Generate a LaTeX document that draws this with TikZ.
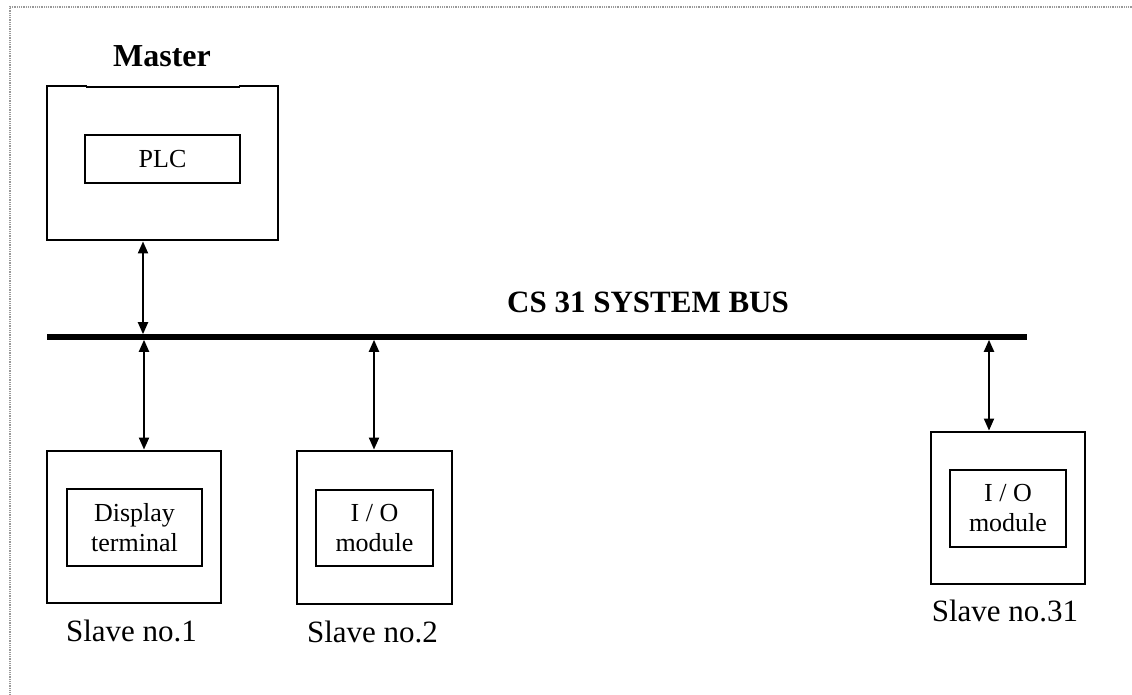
\documentclass[tikz,border=0pt]{standalone}
\usepackage{fontspec}
\setmainfont{Liberation Serif}
\usetikzlibrary{arrows.meta}
\begin{document}
\begin{tikzpicture}[x=1pt,y=-1pt,
  outerbox/.style={draw,line width=2.9pt,inner sep=0pt,minimum width=#1},
  innerbox/.style={draw,line width=2.6pt,inner sep=0pt,align=center,font=\fontsize{26}{30}\selectfont},
  lbl/.style={anchor=base,inner sep=0pt,font=\fontsize{31}{36}\selectfont},
  title/.style={anchor=base,inner sep=0pt,font=\fontsize{31}{36}\selectfont\bfseries},
  link/.style={line width=2pt,{Triangle[length=12pt,width=10pt]}-{Triangle[length=12pt,width=10pt]}},
  bus/.style={line width=5.5pt},
  frame/.style={gray!80,line width=1.1pt,dash pattern=on 1pt off 0.8pt}]
\useasboundingbox (0,0) rectangle (1132,695);
% page frame
\draw[frame] (10,700) -- (10,7) -- (1140,7);
% master
\node[outerbox=231pt,minimum height=154pt] (master) at (162.5,163) {};
\draw[white,line width=3.5pt] (87,86) -- (239,86);
\draw[line width=1.2pt] (86,87) -- (240,87);
\node[innerbox,minimum width=155pt,minimum height=48pt] (plc) at (162.5,159) {PLC};
\node[title,font=\fontsize{32}{36}\selectfont\bfseries] (mastertxt) at (162,67) {Master};
% bus
\coordinate (busL) at (47,337);
\coordinate (busR) at (1027,337);
\draw[bus] (busL) -- (busR);
\node[title] (bustxt) at (648,312) {CS 31 SYSTEM BUS};
\coordinate (b0) at (143,334.2);
\coordinate (b1) at (144,339.8);
\coordinate (b2) at (374,339.8);
\coordinate (b3) at (989,339.8);
% slaves
\node[outerbox=174pt,minimum height=152pt] (s1) at (134,527) {};
\node[innerbox,minimum width=135pt,minimum height=77pt] (s1i) at (134.5,527.5) {Display\\terminal};
\node[lbl] (s1t) at (131.5,641) {Slave no.1};
\node[outerbox=155pt,minimum height=153pt] (s2) at (374.5,527.5) {};
\node[innerbox,minimum width=117pt,minimum height=76pt] (s2i) at (374.5,528) {I / O\\module};
\node[lbl] (s2t) at (372.5,642) {Slave no.2};
\node[outerbox=154pt,minimum height=152pt] (s3) at (1008,508) {};
\node[innerbox,minimum width=116pt,minimum height=77pt] (s3i) at (1008,508.5) {I / O\\module};
\node[lbl] (s3t) at (1005,621) {Slave no.31};
% connectors
\draw[link] (b0 |- master.south) -- (b0);
\draw[link] (b1) -- (b1 |- s1.north);
\draw[link] (b2) -- (b2 |- s2.north);
\draw[link] (b3) -- (b3 |- s3.north);
\end{tikzpicture}
\end{document}
